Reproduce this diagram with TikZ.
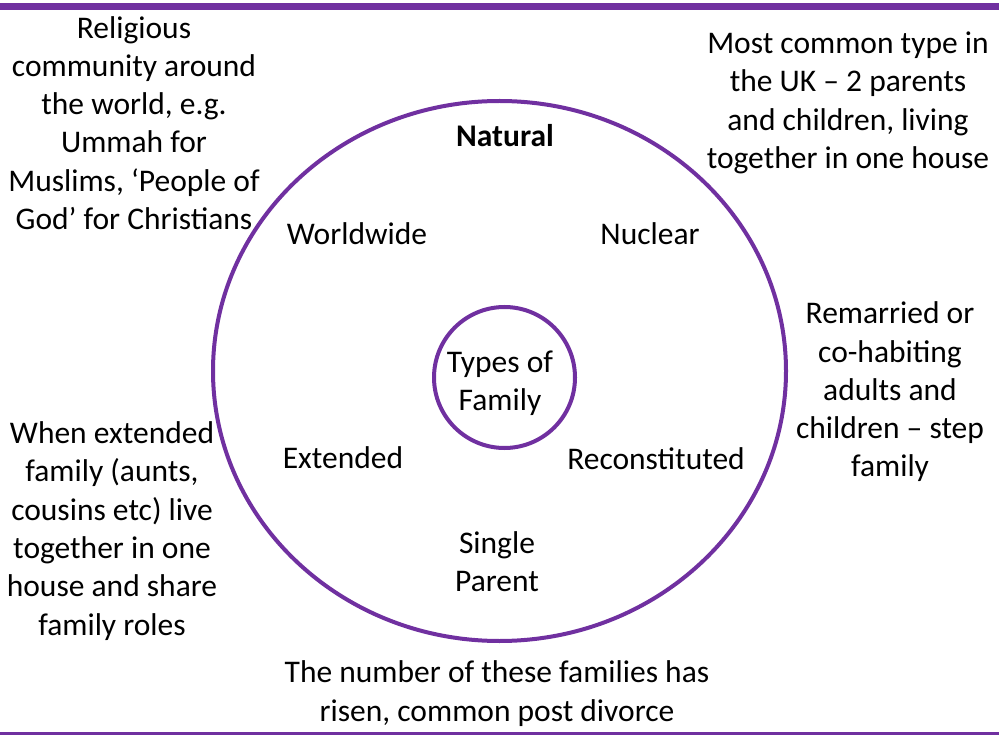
\documentclass[tikz,border=0pt]{standalone}
\usepackage{fontspec}
\setmainfont{Carlito}
\usetikzlibrary{shapes.geometric}
\definecolor{purp}{HTML}{7030A0}
\begin{document}
\begin{tikzpicture}[x=1pt,y=-1pt,
  txt/.style={align=center,inner sep=0pt,font=\fontsize{31.5}{38.3}\selectfont},
  ring/.style={draw=purp,line width=4pt}]
\useasboundingbox (0,0) rectangle (999,735);
\fill[white] (0,0) rectangle (999,735);
% rules
\draw[purp,line width=7pt] (0,6.5) -- (999,6.5);
\draw[purp,line width=3pt] (0,733) -- (999,733);
% circles
\node[ring,ellipse,minimum width=573pt,minimum height=540pt,inner sep=0pt] (outer) at (499.5,371) {};
\node[ring,circle,minimum size=141pt,inner sep=0pt] (inner) at (504.5,377.5) {};
% labels in circle
\node[txt,font=\fontsize{31.5}{38.3}\selectfont\bfseries] (natural) at (505,136) {Natural};
\node[txt] (worldwide) at (357,234) {Worldwide};
\node[txt] (nuclear) at (650,234) {Nuclear};
\node[txt] (types) at (500,383) {Types of\\Family};
\node[txt] (extended) at (343,458) {Extended};
\node[txt] (recon) at (656,459) {Reconstituted};
\node[txt] (single) at (497,561.5) {Single\\Parent};
% descriptions
\node[txt] (dworld) at (134,123) {Religious\\community around\\the world, e.g.\\Ummah for\\Muslims, ‘People of\\God’ for Christians};
\node[txt] (dnuclear) at (848,103) {Most common type in\\the UK – 2 parents\\and children, living\\together in one house};
\node[txt] (drecon) at (890,392) {Remarried or\\co-habiting\\adults and\\children – step\\family};
\node[txt] (dext) at (112,531) {When extended\\family (aunts,\\cousins etc) live\\together in one\\house and share\\family roles};
\node[txt] (dsingle) at (497,693.5) {The number of these families has\\risen, common post divorce};
\end{tikzpicture}
\end{document}
